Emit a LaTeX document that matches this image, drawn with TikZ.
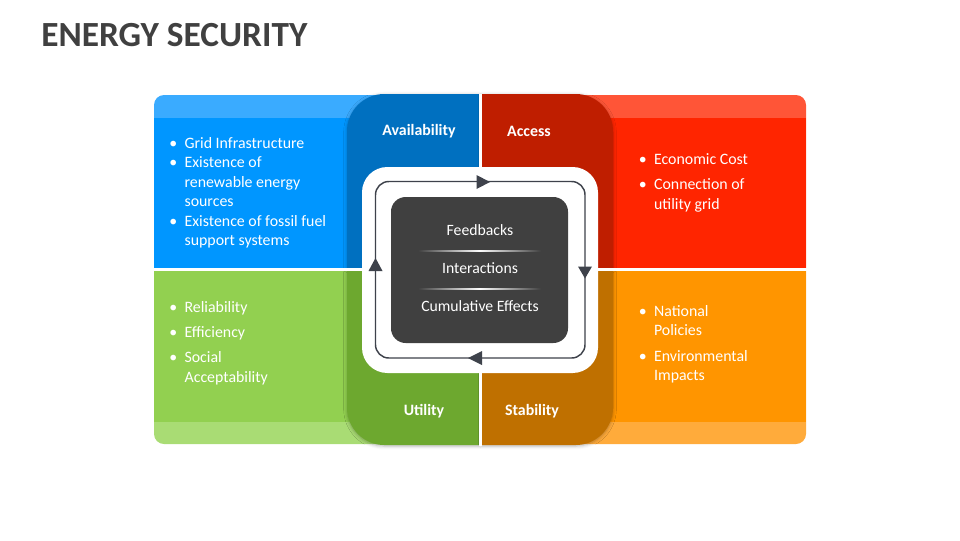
\documentclass[tikz,border=0pt]{standalone}
\usepackage{fontspec}
\setmainfont{Carlito}
\usetikzlibrary{shadows.blur}
\definecolor{bluemain}{HTML}{0096FF}
\definecolor{bluelight}{HTML}{3AABFF}
\definecolor{bluetab}{HTML}{0070C0}
\definecolor{redmain}{HTML}{FF2500}
\definecolor{redlight}{HTML}{FF5537}
\definecolor{redtab}{HTML}{BF1E00}
\definecolor{greenmain}{HTML}{92D050}
\definecolor{greenlight}{HTML}{A9DC74}
\definecolor{greentab}{HTML}{6DA82F}
\definecolor{orangemain}{HTML}{FF9500}
\definecolor{orangelight}{HTML}{FFAB3B}
\definecolor{orangetab}{HTML}{BF7000}
\definecolor{darkgray}{HTML}{404040}
\definecolor{loopgray}{HTML}{3E424B}
\newcommand{\bul}{\makebox[11.5pt][l]{\textbullet}}
\newcommand{\ind}{\hspace*{11.5pt}}
\begin{document}
\begin{tikzpicture}[x=0.75pt,y=-0.75pt,
  tabshadow/.style={blur shadow={shadow xshift=0pt,shadow yshift=-0.8pt,shadow blur radius=2.5pt,shadow opacity=30}},
  bullets/.style={anchor=base west,inner sep=0pt,text=white,font=\fontsize{11.9}{14.6}\selectfont},
  tablabel/.style={text=white,inner sep=0pt,font=\fontsize{11.9}{14}\selectfont\bfseries},
  centertext/.style={text=white,inner sep=0pt,font=\fontsize{11.8}{14}\selectfont},
  looparrow/.style={fill=loopgray}]
\useasboundingbox (0,0) rectangle (960,540);
% title
\node[anchor=base west,inner sep=0pt,text=darkgray,font=\fontsize{26.5}{31}\selectfont\bfseries] (title) at (41,46) {ENERGY SECURITY};
% panels
\fill[bluelight] (480,268) -- (154,268) [rounded corners=7.5pt]-- (154,95) [sharp corners]-- (480,95) -- cycle;
\fill[bluemain] (154,118) rectangle (480,268);
\fill[redlight] (482,268) -- (806,268) [rounded corners=7.5pt]-- (806,95) [sharp corners]-- (482,95) -- cycle;
\fill[redmain] (482,118) rectangle (806,268);
\fill[greenlight] (480,271) -- (154,271) [rounded corners=7.5pt]-- (154,444) [sharp corners]-- (480,444) -- cycle;
\fill[greenmain] (154,271) rectangle (480,422);
\fill[orangelight] (482,271) -- (806,271) [rounded corners=7.5pt]-- (806,444) [sharp corners]-- (482,444) -- cycle;
\fill[orangemain] (482,271) rectangle (806,422);
% tabs
\fill[bluetab,tabshadow] (479,268) -- (347,268) [rounded corners=28pt]-- (347,94) [sharp corners]-- (479,94) -- cycle;
\fill[redtab,tabshadow] (482,268) -- (613,268) [rounded corners=28pt]-- (613,94) [sharp corners]-- (482,94) -- cycle;
\fill[greentab,tabshadow] (479,271) -- (347,271) [rounded corners=28pt]-- (347,445) [sharp corners]-- (479,445) -- cycle;
\fill[orangetab,tabshadow] (482,271) -- (613,271) [rounded corners=28pt]-- (613,445) [sharp corners]-- (482,445) -- cycle;
% white gaps between the quarters
\fill[white] (479.2,94) rectangle (481.8,446);
\fill[white] (150,268.2) rectangle (810,270.8);
% tab labels
\node[tablabel] (availability) at (419,131) {Availability};
\node[tablabel] (access) at (529,131) {Access};
\node[tablabel] (utility) at (424,411) {Utility};
\node[tablabel] (stability) at (532,411) {Stability};
% centre
\fill[white,rounded corners=19pt] (362,167) rectangle (598,373);
\draw[loopgray,line width=1.1pt,rounded corners=10pt] (375.5,181.5) rectangle (585,358);
\fill[looparrow] (490,182) -- (476.5,175) -- (476.5,189) -- cycle;
\fill[looparrow] (585,278.5) -- (578,266.5) -- (592,266.5) -- cycle;
\fill[looparrow] (468,358) -- (482,351) -- (482,365) -- cycle;
\fill[looparrow] (375.5,258) -- (368.5,271) -- (382.5,271) -- cycle;
\node[fill=darkgray,rounded corners=11pt,minimum width=177*0.75pt,minimum height=146*0.75pt,inner sep=0pt] (core) at (479.5,270) {};
\shade[left color=darkgray,right color=darkgray,middle color=white] (418,250.2) rectangle (541,251.8);
\shade[left color=darkgray,right color=darkgray,middle color=white] (418,288.2) rectangle (541,289.8);
\node[centertext] (feedbacks) at (480,230) {Feedbacks};
\node[centertext] (interactions) at (480,268) {Interactions};
\node[centertext] (cumulative) at (480,306) {Cumulative Effects};
% bullet lists
\node[bullets] (listA) at (169,148.5) {\begin{tabular}[t]{@{}l@{}}
\bul Grid Infrastructure\\
\bul Existence of\\
\ind renewable energy\\
\ind sources\\
\bul Existence of fossil fuel\\
\ind support systems
\end{tabular}};
\node[bullets] (listB) at (638.5,164.5) {\begin{tabular}[t]{@{}l@{}}
\bul Economic Cost\\[4.2pt]
\bul Connection of\\
\ind utility grid
\end{tabular}};
\node[bullets] (listC) at (169,312.5) {\begin{tabular}[t]{@{}l@{}}
\bul Reliability\\[4.2pt]
\bul Efficiency\\[4.2pt]
\bul Social\\
\ind Acceptability
\end{tabular}};
\node[bullets] (listD) at (638.5,316.5) {\begin{tabular}[t]{@{}l@{}}
\bul National\\
\ind Policies\\[4.2pt]
\bul Environmental\\
\ind Impacts
\end{tabular}};
\end{tikzpicture}
\end{document}
